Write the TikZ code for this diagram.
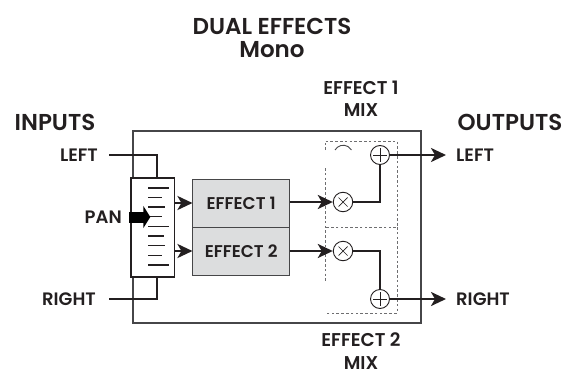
\documentclass[tikz,border=0pt]{standalone}
\usepackage{fontspec}
\setmainfont{Poppins SemiBold}
\usepackage{xcolor}
\usetikzlibrary{positioning, arrows.meta, calc}
\definecolor{ink}{RGB}{35,31,32}
\definecolor{frame}{RGB}{70,70,72}
\definecolor{fx}{RGB}{220,221,222}
\definecolor{dots}{RGB}{110,110,112}
\begin{document}
\begin{tikzpicture}[x=1pt, y=-1pt, ink,
  lab/.style={font=\fontsize{18}{19}\selectfont, inner sep=0pt},
  biglab/.style={font=\fontsize{23}{23}\selectfont, inner sep=0pt, align=center},
  fxbox/.style={draw=frame, fill=fx, line width=1pt, minimum width=96.5pt, minimum height=48pt, inner sep=0pt, font=\fontsize{17}{18}\selectfont},
  mixer/.style={draw=ink, circle, fill=white, line width=0.9pt, minimum size=19.5pt, inner sep=0pt},
  adder/.style={circle, minimum size=19pt, inner sep=0pt},
  wire/.style={line width=2.4pt},
  sig/.style={wire, -{Stealth[length=15pt, width=14pt, inset=4pt]}},
  tick/.style={line width=1.3pt},
  mixarea/.style={draw=dots, line width=0.9pt, dash pattern=on 2.6pt off 2.2pt}]
\useasboundingbox (0,0) rectangle (564,372);
% titles
\node[biglab] (title) at (272,38) {DUAL EFFECTS\\Mono};
\node[biglab] (inputs) at (55,122) {INPUTS};
\node[biglab] (outputs) at (510,122) {OUTPUTS};
\node[lab, align=center, font=\fontsize{18.5}{22.5}\selectfont] (mixa) at (361,99) {EFFECT 1\\MIX};
\node[lab, align=center, font=\fontsize{18.5}{22.5}\selectfont] (mixb) at (361,351) {EFFECT 2\\MIX};
% case
\draw[frame, line width=1.2pt] (133,131) rectangle (421,323);
% dashed mix areas
\draw[mixarea] (325,150) -- (325,141) -- (397,141) -- (397,227) -- (325,227);
\draw[mixarea] (325,168) -- (325,283);
\draw[mixarea] (397,227) -- (397,313) -- (325,313);
\draw[frame, line width=0.9pt] (335,150) arc[start angle=-150, end angle=-30, radius=9.5];
% inputs
\node[lab, anchor=east] (inl) at (98,155) {LEFT};
\node[lab, anchor=east] (inr) at (96,299) {RIGHT};
\node[lab, anchor=east] (pan) at (122,217) {PAN};
\coordinate (fadert) at (157,178);
\coordinate (faderb) at (157,277);
\draw[wire] (109,155) -| (fadert);
\draw[wire] (109,299) -| (faderb);
\node[draw=ink, fill=white, line width=1.3pt, minimum width=43.5pt, minimum height=99pt, inner sep=0pt] (fader) at (152.7,227.5) {};
% scale of the fader
\foreach \y/\w in {188/21, 197.7/14, 207/17, 216.7/14, 226.3/21, 236/16, 245.7/17, 255.3/14, 265/21}
  \draw[tick] (148,\y) -- ++(\w,0);
\draw[line width=11pt, black, -{Triangle[length=7pt, width=22pt]}] (fader.west) ++(-1,-10.5) -- ++(21,0);
% effects
\node[fxbox] (fxa) at (241.2,203) {EFFECT 1};
\node[fxbox] (fxb) at (241.2,251) {EFFECT 2};
\draw[sig] (fader.east |- fxa) -- (fxa);
\draw[sig] (fader.east |- fxb) -- (fxb);
% mix
\node[mixer] (mula) at (343,202) {};
\node[mixer] (mulb) at (343,251) {};
\foreach \m in {mula, mulb} {
  \draw[line width=0.7pt] (\m.center) ++(-4.5,-4.5) -- ++(9,9);
  \draw[line width=0.7pt] (\m.center) ++(-4.5,4.5) -- ++(9,-9);
}
\node[adder] (adda) at (380,155) {};
\node[adder] (addb) at (380,299) {};
\foreach \m in {adda, addb} {
  \draw[line width=0.8pt] (\m.center) ++(-7,0) -- ++(14,0);
  \draw[line width=0.8pt] (\m.center) ++(0,-7) -- ++(0,14);
  \draw[line width=0.9pt] (\m.center) circle[radius=9.5];
}
\draw[sig] (fxa.east |- mula) -- (mula);
\draw[sig] (fxb.east |- mulb) -- (mulb);
\draw[wire] (mula) -| (adda);
\draw[wire] (mulb) -| (addb);
% outputs
\node[lab, anchor=west] (outl) at (456,155) {LEFT};
\node[lab, anchor=west] (outr) at (456,299) {RIGHT};
\coordinate (tipa) at (446,155);
\coordinate (tipb) at (446,299);
\draw[sig] (adda) -- (tipa);
\draw[sig] (addb) -- (tipb);
\end{tikzpicture}
\end{document}
